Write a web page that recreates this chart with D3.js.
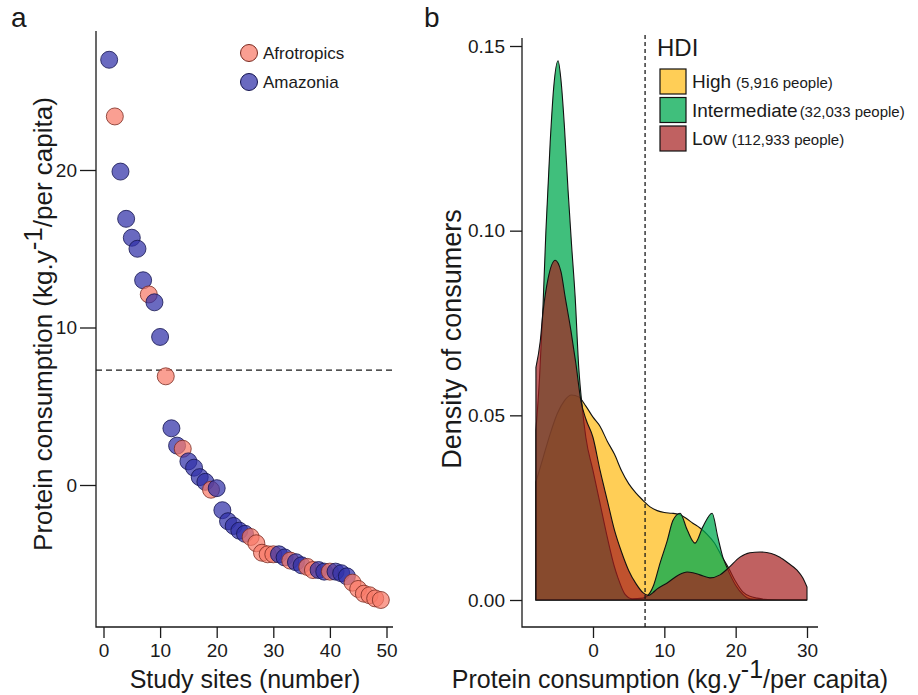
<!DOCTYPE html>
<html>
<head>
<meta charset="utf-8">
<script src="https://cdn.jsdelivr.net/npm/d3@7/dist/d3.min.js"></script>
<style>
  body { margin: 0; background: #fff; }
  svg { font-family: "Liberation Sans", Arial, sans-serif; }
</style>
</head>
<body>
<svg width="918" height="695"></svg>
<script>
// ---- panel a: protein consumption per study site ----
const siteRegion = [
  "Amazonia", "Afrotropics", "Amazonia", "Amazonia", "Amazonia", "Amazonia", "Amazonia",
  "Afrotropics", "Amazonia", "Amazonia", "Afrotropics", "Amazonia", "Amazonia", "Afrotropics",
  "Amazonia", "Amazonia", "Amazonia", "Amazonia", "Afrotropics", "Amazonia", "Amazonia",
  "Amazonia", "Amazonia", "Amazonia", "Amazonia", "Afrotropics", "Afrotropics", "Afrotropics",
  "Afrotropics", "Afrotropics", "Amazonia", "Amazonia", "Afrotropics", "Amazonia", "Amazonia",
  "Afrotropics", "Afrotropics", "Amazonia", "Amazonia", "Afrotropics", "Amazonia", "Amazonia",
  "Amazonia", "Afrotropics", "Afrotropics", "Afrotropics", "Afrotropics", "Afrotropics", "Afrotropics"
];
const siteProtein = [
  27.0, 23.4, 19.9, 16.9, 15.7, 15.0, 13.0, 12.1, 11.6, 9.4,
  6.9, 3.6, 2.5, 2.3, 1.5, 1.1, 0.5, 0.2, -0.3, -0.2,
  -1.6, -2.3, -2.6, -2.9, -3.1, -3.3, -3.7, -4.3, -4.4, -4.4,
  -4.4, -4.6, -4.8, -4.9, -5.1, -5.2, -5.4, -5.4, -5.5, -5.5,
  -5.5, -5.6, -5.8, -6.2, -6.6, -6.9, -7.0, -7.2, -7.3
];
const regionNames = ["Afrotropics", "Amazonia"];
const threshold = 7.3;

// ---- panel b: density of consumers by HDI ----
const hdiNames = ["High", "Intermediate", "Low"];
const hdiPeople = ["(5,916 people)", "(32,033 people)", "(112,933 people)"];
const highDensity = [
  [-8, 0.032], [-7, 0.0385], [-6, 0.045], [-5, 0.0505], [-4, 0.054], [-3, 0.0555],
  [-2, 0.055], [-1, 0.0525], [0, 0.0495], [1, 0.047], [2, 0.043], [3, 0.0395],
  [4, 0.035], [5, 0.0315], [6, 0.029], [7, 0.027], [8, 0.0252], [9, 0.0242],
  [10, 0.0237], [11, 0.0235], [12, 0.0232], [13, 0.0222], [14, 0.0208], [15, 0.0195],
  [16, 0.0178], [17, 0.0155], [18, 0.012], [19, 0.0087], [20, 0.005], [21, 0.0022],
  [22, 0.001], [23, 0.0005], [24, 0.0002], [26, 0], [30, 0]
];
const interDensity = [
  [-8, 0.046], [-7.5, 0.06], [-7, 0.08], [-6.6, 0.1], [-6, 0.124], [-5.5, 0.139],
  [-4.9, 0.146], [-4.5, 0.141], [-4, 0.128], [-3.5, 0.111], [-3, 0.096], [-2.5, 0.082],
  [-2, 0.063], [-1.5, 0.052], [-1, 0.044], [0, 0.035], [1, 0.026], [2, 0.017],
  [3, 0.009], [3.5, 0.006], [4.5, 0.0015], [5.5, 0.0003], [7, 0.0005], [8, 0.002],
  [8.5, 0.004], [9.4, 0.01], [10.4, 0.016], [11.2, 0.0215], [12.2, 0.0235], [13.2, 0.019],
  [14.3, 0.0154], [15.4, 0.0198], [16.7, 0.0235], [17.5, 0.017], [18.2, 0.0116], [18.8, 0.0087],
  [20, 0.004], [21, 0.0015], [22, 0.0003], [24, 0], [30, 0]
];
const lowDensity = [
  [-8, 0.063], [-7.4, 0.07], [-7, 0.078], [-6.3, 0.087], [-5.3, 0.092], [-4.5, 0.089],
  [-3.9, 0.082], [-3.1, 0.073], [-2.4, 0.064], [-1.7, 0.054], [-1, 0.049], [0, 0.044],
  [1, 0.035], [2, 0.027], [3, 0.019], [4, 0.013], [5, 0.008], [6, 0.0045],
  [7, 0.002], [7.8, 0.0012], [8.4, 0.002], [9, 0.003], [10.4, 0.0046], [12, 0.0068],
  [13.2, 0.0076], [14, 0.0074], [15, 0.0068], [16.4, 0.006], [17.8, 0.0068], [19, 0.0087],
  [20.6, 0.0116], [22, 0.0128], [23.4, 0.013], [25, 0.0126], [26.2, 0.0116], [27.5, 0.0098],
  [28.6, 0.0081], [29.4, 0.006], [30, 0.0035]
];

const svg = d3.select("svg");
const ink = "#1a1a1a";

function titleWithUnit(sel) {
  sel.append("tspan").text("Protein consumption (kg.y");
  sel.append("tspan").attr("dy", "-0.4em").text("-1");
  sel.append("tspan").attr("dy", "0.4em").text("/per capita)");
}

// ================= panel a =================
let xA = d3.scaleLinear().domain([0, 50]).range([103.5, 386.5]);
let yA = d3.scaleLinear().domain([0, 20]).range([485, 170]);
let regionFill = d3.scaleOrdinal().domain(regionNames).range(["#f87a68", "#3030a8"]);
let regionStroke = d3.scaleOrdinal().domain(regionNames).range(["#7a2a20", "#141450"]);

let gA = svg.append("g");

gA.append("path")
  .attr("d", "M96,31V627H393")
  .attr("fill", "none").attr("stroke", ink).attr("stroke-width", 1.3);

let axA_x = gA.append("g").attr("transform", "translate(0,627)")
  .call(d3.axisBottom(xA).tickValues([0, 10, 20, 30, 40, 50]).tickSize(11).tickPadding(6));
let axA_y = gA.append("g").attr("transform", "translate(96,0)")
  .call(d3.axisLeft(yA).tickValues([0, 10, 20]).tickSize(16).tickPadding(3));
[axA_x, axA_y].forEach(a => {
  a.select(".domain").remove();
  a.selectAll("line").attr("stroke", ink).attr("stroke-width", 1.3);
  a.selectAll("text").attr("fill", ink).style("font-size", "19px");
});

gA.append("line")
  .attr("x1", 96).attr("x2", 395)
  .attr("y1", yA(threshold)).attr("y2", yA(threshold))
  .attr("stroke", ink).attr("stroke-width", 1.3).attr("stroke-dasharray", "6,4");

gA.selectAll("circle.site")
  .data(siteProtein)
  .enter()
  .append("circle")
  .attr("class", "site")
  .attr("cx", (d, i) => xA(i + 1))
  .attr("cy", d => yA(d))
  .attr("r", 8.5)
  .attr("fill", (d, i) => regionFill(siteRegion[i]))
  .attr("fill-opacity", 0.72)
  .attr("stroke", (d, i) => regionStroke(siteRegion[i]))
  .attr("stroke-opacity", 0.8)
  .attr("stroke-width", 1);

let legA = gA.selectAll("g.leg").data(regionNames).enter().append("g")
  .attr("transform", (d, i) => `translate(249,${53 + i * 29})`);
legA.append("circle").attr("r", 8.5)
  .attr("fill", d => regionFill(d)).attr("fill-opacity", 0.72)
  .attr("stroke", d => regionStroke(d)).attr("stroke-width", 1);
legA.append("text").attr("x", 14).attr("y", 6)
  .attr("fill", ink).style("font-size", "17px").text(d => d);

gA.append("text").attr("x", 245).attr("y", 688).attr("text-anchor", "middle")
  .attr("fill", ink).style("font-size", "25px").text("Study sites (number)");
gA.append("text").attr("transform", "translate(52,324) rotate(-90)").attr("text-anchor", "middle")
  .attr("fill", ink).style("font-size", "26px").call(titleWithUnit);

svg.append("text").attr("x", 11).attr("y", 27).attr("fill", ink)
  .style("font-size", "28px").text("a");

// ================= panel b =================
let xB = d3.scaleLinear().domain([0, 30]).range([593, 807]);
let yB = d3.scaleLinear().domain([0, 0.15]).range([600, 46]);
let hdiFill = d3.scaleOrdinal().domain(hdiNames)
  .range(["rgba(255,190,30,0.75)", "rgba(0,170,80,0.75)", "rgba(165,30,30,0.7)"]);

let gB = svg.append("g");

gB.append("path")
  .attr("d", "M522,38V627H818")
  .attr("fill", "none").attr("stroke", ink).attr("stroke-width", 1.3);

let axB_x = gB.append("g").attr("transform", "translate(0,627)")
  .call(d3.axisBottom(xB).tickValues([0, 10, 20, 30]).tickSize(11).tickPadding(6));
let axB_y = gB.append("g").attr("transform", "translate(522,0)")
  .call(d3.axisLeft(yB).tickValues([0, 0.05, 0.1, 0.15]).tickFormat(d3.format(".2f"))
    .tickSize(12).tickPadding(5));
[axB_x, axB_y].forEach(a => {
  a.select(".domain").remove();
  a.selectAll("line").attr("stroke", ink).attr("stroke-width", 1.3);
  a.selectAll("text").attr("fill", ink).style("font-size", "19px");
});

let area = d3.area()
  .curve(d3.curveMonotoneX)
  .x(d => xB(d[0]))
  .y0(yB(0))
  .y1(d => yB(d[1]));

let densities = [highDensity, interDensity, lowDensity];
gB.selectAll("path.dens")
  .data(densities)
  .enter()
  .append("path")
  .attr("class", "dens")
  .attr("d", area)
  .attr("fill", (d, i) => hdiFill(hdiNames[i]))
  .attr("stroke", "#111")
  .attr("stroke-width", 1.1);

gB.append("line")
  .attr("x1", xB(threshold)).attr("x2", xB(threshold))
  .attr("y1", 35).attr("y2", 627)
  .attr("stroke", ink).attr("stroke-width", 1.3).attr("stroke-dasharray", "4,3");

gB.append("text").attr("x", 657).attr("y", 56).attr("fill", ink)
  .style("font-size", "24px").text("HDI");
let legB = gB.selectAll("g.hdi").data(hdiNames).enter().append("g")
  .attr("transform", (d, i) => `translate(660,${69 + i * 28.5})`);
legB.append("rect").attr("width", 26).attr("height", 25)
  .attr("fill", d => hdiFill(d)).attr("stroke", "#111").attr("stroke-width", 1.2);
let legText = legB.append("text").attr("x", 32).attr("y", 19).attr("fill", ink);
legText.append("tspan").style("font-size", "19px").text(d => d);
legText.append("tspan").attr("dx", (d, i) => i === 1 ? 2 : 5)
  .style("font-size", "15px").text((d, i) => hdiPeople[i]);

gB.append("text").attr("x", 670).attr("y", 688).attr("text-anchor", "middle")
  .attr("fill", ink).style("font-size", "25px").call(titleWithUnit);
gB.append("text").attr("transform", "translate(461,339) rotate(-90)").attr("text-anchor", "middle")
  .attr("fill", ink).style("font-size", "27px").text("Density of consumers");

svg.append("text").attr("x", 424).attr("y", 27).attr("fill", ink)
  .style("font-size", "28px").text("b");
</script>
</body>
</html>
